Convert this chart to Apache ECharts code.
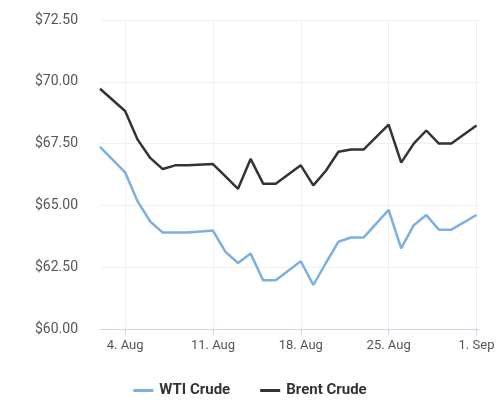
<!DOCTYPE html><html><head><meta charset="utf-8"><script src="https://cdn.jsdelivr.net/npm/echarts@6/dist/echarts.min.js"></script>
<style>html,body{margin:0;background:#fff}#c{width:500px;height:411px}</style></head><body><div id="c"></div><script>
// day number: August day (Sep 1 = 32)
const days=[2,4,5,6,7,8,9,11,12,13,14,15,16,18,19,20,21,22,23,25,26,27,28,29,30,32];
const wti=[67.37,66.34,65.16,64.35,63.90,63.90,63.90,63.98,63.12,62.67,63.05,61.97,61.97,62.74,61.78,62.67,63.53,63.70,63.70,64.82,63.26,64.20,64.61,64.02,64.02,64.61];
const brent=[69.72,68.82,67.66,66.92,66.47,66.62,66.62,66.67,66.17,65.67,66.88,65.88,65.88,66.62,65.81,66.40,67.17,67.26,67.26,68.27,66.73,67.50,68.03,67.50,67.50,68.23];
const tickDays=[4,11,18,25,32];
const tickLabels=['4. Aug','11. Aug','18. Aug','25. Aug','1. Sep'];
const ff='Roboto';
const ch=echarts.init(document.getElementById('c'));
ch.setOption({
 animation:false,
 grid:{left:100,right:21,top:20,bottom:82},
 legend:{bottom:8,itemGap:30,icon:'path://M0,0H20V3H0Z',itemWidth:22,itemHeight:3,textStyle:{fontFamily:ff,fontSize:15,fontWeight:'bold',color:'#333'}},
 xAxis:{type:'value',min:2,max:32.2,
  axisLine:{show:true,lineStyle:{color:'#ccd6eb'}},
  axisTick:{show:true,customValues:tickDays,length:6,lineStyle:{color:'#ccd6eb'}},
  axisLabel:{customValues:tickDays,formatter:v=>tickLabels[tickDays.indexOf(v)],fontFamily:ff,fontSize:13,color:'#555',margin:10},
  splitLine:{show:true,lineStyle:{color:'#eef0f5'}}},
 yAxis:{type:'value',min:60,max:72.5,interval:2.5,
  axisLine:{show:false},axisTick:{show:false},
  axisLabel:{formatter:v=>'$'+v.toFixed(2),fontFamily:ff,fontSize:14,color:'#555',margin:22},
  splitLine:{lineStyle:{color:'#eef0f5'}}},
 series:[
  {name:'WTI Crude',type:'line',data:days.map((d,i)=>[d,wti[i]]),symbol:'none',lineStyle:{width:2.5,color:'#7cb0e0'},itemStyle:{color:'#7cb0e0'}},
  {name:'Brent Crude',type:'line',data:days.map((d,i)=>[d,brent[i]]),symbol:'none',lineStyle:{width:2.5,color:'#333'},itemStyle:{color:'#333'}}
 ]
});
</script></body></html>
